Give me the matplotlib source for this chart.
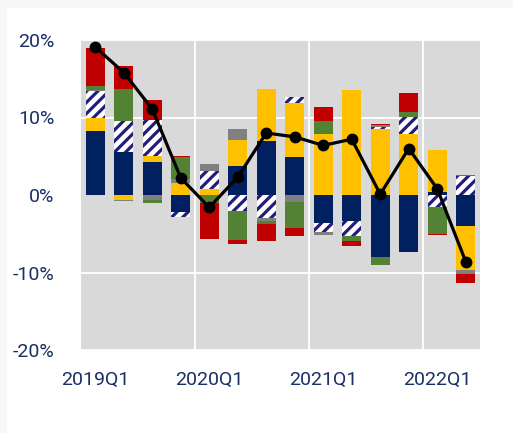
import numpy as np
import matplotlib
matplotlib.use("Agg")
import matplotlib.pyplot as plt
from matplotlib.patches import Rectangle

plt.rcParams['font.family'] = ['Roboto', 'DejaVu Sans']
plt.rcParams['hatch.linewidth'] = 2.3

quarters = ['2019Q1', '2019Q2', '2019Q3', '2019Q4',
            '2020Q1', '2020Q2', '2020Q3', '2020Q4',
            '2021Q1', '2021Q2', '2021Q3', '2021Q4',
            '2022Q1', '2022Q2']

# contributions, percentage points
navy = [8.2, 5.5, 4.3, -2.2, 0.0, 3.8, 7.0, 4.9, -3.6, -3.3, -7.95, -7.4, 0.4, -4.05]
yellow = [1.8, -0.6, 0.7, 1.6, 0.8, 3.3, 6.7, 7.0, 7.9, 13.6, 8.5, 7.9, 5.4, -5.65]
hatched = [3.4, 4.0, 4.7, -0.6, 2.3, -2.0, -3.0, 0.7, -1.2, -2.0, 0.3, 2.2, -1.5, 2.4]
gray = [0.2, -0.2, -0.7, 0.5, 0.9, 1.4, -0.4, -0.85, -0.4, 0.0, 0.2, 0.0, 0.0, -0.5]
green = [0.5, 4.2, -0.3, 2.8, -1.05, -3.75, -0.3, -3.4, 1.6, -0.6, -1.1, 0.55, -3.5, 0.2]
red = [4.9, 2.9, 2.6, 0.1, -4.6, -0.55, -2.25, -1.0, 1.9, -0.65, 0.1, 2.5, -0.2, -1.15]
total = [19.1, 15.8, 11.1, 2.2, -1.6, 2.3, 8.0, 7.5, 6.4, 7.2, 0.1, 6.0, 0.8, -8.6]

label_col = '#1A2F66'
hatch_col = '#231C7A'

series = [
    (navy, dict(color='#002060')),
    (yellow, dict(color='#FFC000')),
    (hatched, dict(color='white', edgecolor=hatch_col, hatch='///')),
    (gray, dict(color='#808080')),
    (green, dict(color='#548235')),
    (red, dict(color='#C00000')),
]

fig = plt.figure(figsize=(5.13, 4.33), dpi=100)
fig.patch.set_facecolor('white')
# light frame strips top and left
fig.patches.append(Rectangle((0, 1 - 8 / 433), 1, 8 / 433, transform=fig.transFigure,
                             facecolor='#f7f7f7', edgecolor='none'))
fig.patches.append(Rectangle((0, 0), 7 / 513, 1, transform=fig.transFigure,
                             facecolor='#f7f7f7', edgecolor='none'))

ax = fig.add_axes([81 / 513, 83 / 433, 399 / 513, 310 / 433])
ax.set_facecolor('#D9D9D9')

x = np.arange(len(quarters))
pos_bottom = np.zeros(len(x))
neg_bottom = np.zeros(len(x))
for vals, style in series:
    v = np.array(vals)
    p = np.where(v > 0, v, 0)
    n = np.where(v < 0, v, 0)
    ax.bar(x, p, 0.67, bottom=pos_bottom, linewidth=0, zorder=2, **style)
    ax.bar(x, n, 0.67, bottom=neg_bottom, linewidth=0, zorder=2, **style)
    pos_bottom += p
    neg_bottom += n

ax.plot(x, total, color='black', lw=2.3, marker='o', ms=7.5, zorder=4)

ax.set_xlim(-0.5, len(x) - 0.5)
ax.set_ylim(-20, 20)
for yy in [-20, -10, 10, 20]:
    ax.axhline(yy, color='white', lw=1.3, zorder=1)
for xx in [3.5, 7.5, 11.5]:
    ax.axvline(xx, color='white', lw=1.3, zorder=1)

ax.set_yticks([-20, -10, 0, 10, 20])
ax.set_yticklabels(['-20%', '-10%', '0%', '10%', '20%'])
ax.set_xticks(x[::4])
ax.set_xticklabels(quarters[::4])
ax.tick_params(axis='both', length=0, labelsize=14, colors=label_col)
ax.tick_params(axis='y', pad=19)
ax.tick_params(axis='x', pad=15)
for s in ax.spines.values():
    s.set_visible(False)

fig.savefig('out.png', dpi=100)
